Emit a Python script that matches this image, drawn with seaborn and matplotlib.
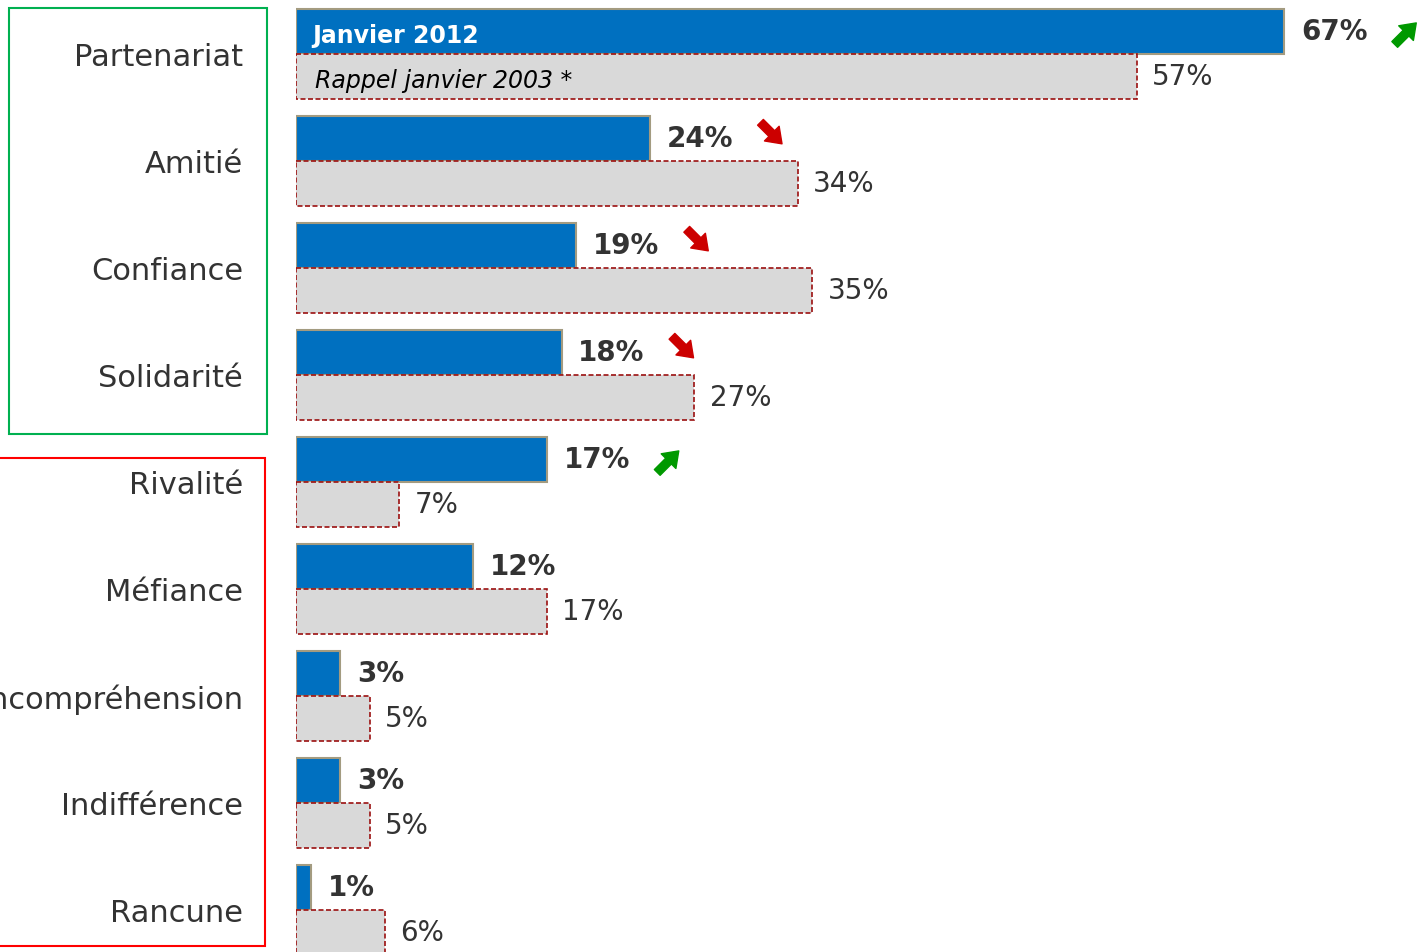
import pandas as pd
import matplotlib
matplotlib.use("Agg")
import matplotlib.pyplot as plt
from matplotlib.patches import Rectangle
import seaborn as sns

categories = ["Partenariat", "Amitié", "Confiance", "Solidarité", "Rivalité",
              "Méfiance", "Incompréhension", "Indifférence", "Rancune"]
jan_2012 = [67, 24, 19, 18, 17, 12, 3, 3, 1]
jan_2003 = [57, 34, 35, 27, 7, 17, 5, 5, 6]
trend = ["up", "down", "down", "down", "up", None, None, None, None]
series = ["Janvier 2012", "Rappel janvier 2003 *"]

df = pd.DataFrame({
    "category": categories * 2,
    "value": jan_2012 + jan_2003,
    "series": [series[0]] * len(categories) + [series[1]] * len(categories),
})

sns.set_style("white")
plt.rcParams["font.family"] = ["DejaVu Sans"]

W, H = 1423, 953
fig = plt.figure(figsize=(W / 100, H / 100), dpi=100)
left = 296 / W
ax = fig.add_axes([left, 0, 1 - left, 1])

sns.barplot(data=df, x="value", y="category", hue="series", hue_order=series,
            order=categories, orient="h", width=0.84, dodge=True,
            palette=["#0070c0", "#d9d9d9"], saturation=1, legend=False, ax=ax)

# scale: 14.75 px per percent, slot of 107 px per category
ax.set_xlim(0, (W - 296) / 14.75)
ax.set_ylim(8.393, -0.5135)

blue, grey = ax.containers[0], ax.containers[1]
for p in blue:
    p.set_edgecolor("#a39b80")
    p.set_linewidth(1.5)
for p in grey:
    p.set_edgecolor("#9b1010")
    p.set_linestyle((0, (3, 1.5)))
    p.set_linewidth(1.2)

ax.bar_label(blue, labels=[f"{v}%" for v in jan_2012], padding=12,
             fontsize=20, fontweight="bold", color="#333333")
ax.bar_label(grey, labels=[f"{v}%" for v in jan_2003], padding=11,
             fontsize=20, color="#333333")

# trend arrows (heavy block arrows next to the 2012 label)
arrow_style = "simple,head_length=0.8,head_width=1.15,tail_width=0.45"
for i, (v, t) in enumerate(zip(jan_2012, trend)):
    if t is None:
        continue
    cx = v + 8.2
    if t == "up":
        cy = i - 0.19
        ax.annotate("", xy=(cx + 0.75, cy - 0.10), xytext=(-15.5, -15.5),
                    textcoords="offset points",
                    arrowprops=dict(arrowstyle=arrow_style, color="#009900",
                                    mutation_scale=13, shrinkA=0, shrinkB=0))
    else:
        cy = i - 0.26
        ax.annotate("", xy=(cx + 0.75, cy + 0.10), xytext=(-15.5, 15.5),
                    textcoords="offset points",
                    arrowprops=dict(arrowstyle=arrow_style, color="#cc0000",
                                    mutation_scale=13, shrinkA=0, shrinkB=0))

# legend inside the first bars
ax.text(1.08, -0.18, series[0], color="white", fontsize=17, fontweight="bold",
        ha="left", va="center")
ax.text(1.29, 0.245, series[1], color="black", fontsize=17, style="italic",
        ha="left", va="center")

ax.set_xlabel("")
ax.set_ylabel("")
ax.set_xticks([])
ax.tick_params(axis="y", length=0, pad=38, labelsize=22, labelcolor="#333333")
sns.despine(ax=ax, left=True, bottom=True)

# group boxes
fig.patches.append(Rectangle((9 / W, 1 - 435 / H), 258 / W, 426 / H,
                             transform=fig.transFigure, fill=False,
                             edgecolor="#00b050", linewidth=1.5))
fig.patches.append(Rectangle((-5 / W, 1 - 947 / H), 270 / W, 488 / H,
                             transform=fig.transFigure, fill=False,
                             edgecolor="#ff0000", linewidth=1.5))

fig.savefig("out.png", dpi=100)
